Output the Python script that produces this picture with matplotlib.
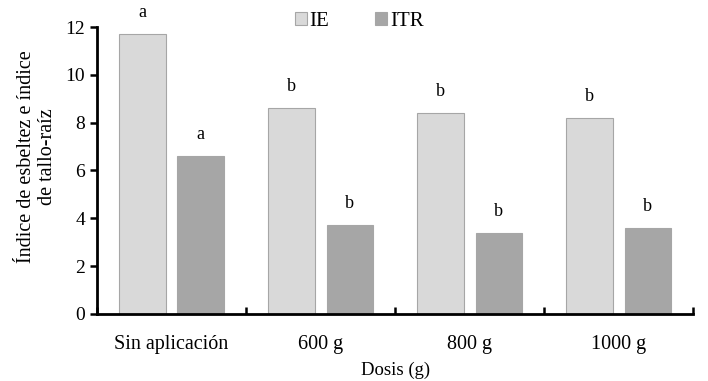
import numpy as np
import matplotlib
matplotlib.use('Agg')
import matplotlib.pyplot as plt

categories = ['Sin aplicación', '600 g', '800 g', '1000 g']
ie_values = [11.7, 8.6, 8.4, 8.2]
itr_values = [6.6, 3.7, 3.4, 3.6]
ie_letters = ['a', 'b', 'b', 'b']
itr_letters = ['a', 'b', 'b', 'b']

plt.rcParams['font.family'] = ['Liberation Serif', 'DejaVu Serif']

fig = plt.figure(figsize=(7.08, 3.81), dpi=100)
ax = fig.add_axes([0.137, 0.176, 0.842, 0.753])

x = np.arange(len(categories))
w = 0.31
off = 0.195
ax.bar(x - off, ie_values, w, color='#d9d9d9', edgecolor='#a6a6a6', linewidth=0.8, label='IE')
ax.bar(x + off, itr_values, w, color='#a6a6a6', edgecolor='#a6a6a6', linewidth=0.8, label='ITR')

for xi, v, t in zip(x, ie_values, ie_letters):
    ax.text(xi - off, v + 0.55, t, ha='center', va='bottom', fontsize=13)
for xi, v, t in zip(x, itr_values, itr_letters):
    ax.text(xi + off, v + 0.55, t, ha='center', va='bottom', fontsize=13)

ax.set_xlim(-0.5, len(categories) - 0.5)
ax.set_ylim(0, 12)
ax.set_yticks(range(0, 13, 2))
ax.set_xticks(x)
ax.set_xticklabels(categories, fontsize=14.5)
ax.set_xticks(np.arange(-0.5, len(categories), 1.0), minor=True)
ax.tick_params(axis='x', which='major', length=0, pad=15)
ax.tick_params(axis='x', which='minor', direction='in', length=5, width=1.8)
ax.tick_params(axis='y', direction='out', length=5, width=1.8, labelsize=14)

for s in ['top', 'right']:
    ax.spines[s].set_visible(False)
for s in ['left', 'bottom']:
    ax.spines[s].set_linewidth(2)

ax.set_xlabel('Dosis (g)', fontsize=13.5, labelpad=6)
ax.set_ylabel('Índice de esbeltez e índice\nde tallo-raíz', fontsize=14.5, linespacing=1.15)
ax.yaxis.set_label_coords(-0.067, 0.55)

ax.legend(loc='center', bbox_to_anchor=(0.44, 1.02), ncol=2, frameon=False,
          fontsize=15, handlelength=0.55, handleheight=0.55, handletextpad=0.15, columnspacing=2.2)

fig.savefig('out.png', dpi=100)
